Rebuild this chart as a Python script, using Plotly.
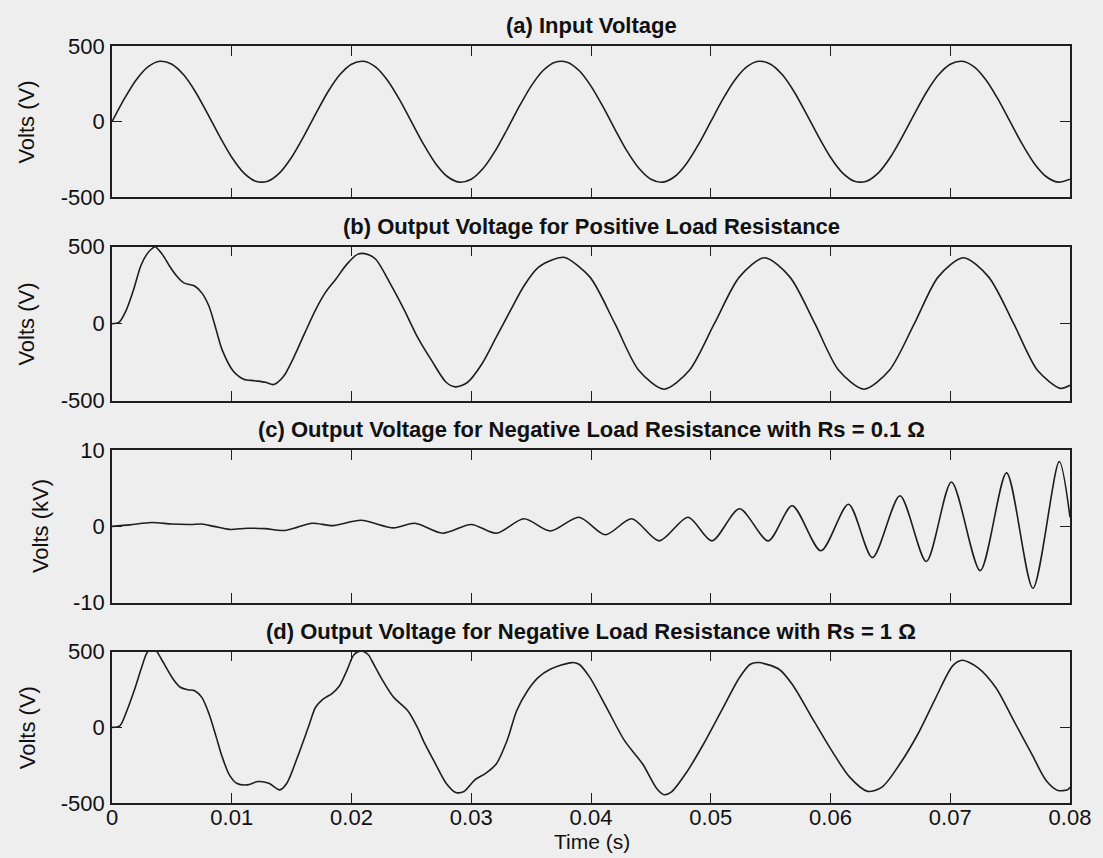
import plotly.graph_objects as go

# ---------------- data ----------------
x_ticks = [0, 0.01, 0.02, 0.03, 0.04, 0.05, 0.06, 0.07, 0.08]
x_tick_labels = ["0", "0.01", "0.02", "0.03", "0.04", "0.05", "0.06", "0.07", "0.08"]
y_ticks_v = [-500, 0, 500]
y_tick_labels_v = ["-500", "0", "500"]
y_ticks_kv = [-10, 0, 10]
y_tick_labels_kv = ["-10", "0", "10"]

titles = ["(a) Input Voltage",
          "(b) Output Voltage for Positive Load Resistance",
          "(c) Output Voltage for Negative Load Resistance with Rs = 0.1 \u03a9",
          "(d) Output Voltage for Negative Load Resistance with Rs = 1 \u03a9"]
y_labels = ["Volts (V)", "Volts (V)", "Volts (kV)", "Volts (V)"]
x_label = "Time (s)"

# (a) input voltage, sampled every 1 ms
t_a = [i / 1000 for i in range(81)]
v_a = [0, 147, 274, 362, 399, 380, 308, 193, 50, -99, -235, -338, -393, -393, -338, -235, -99,
       50, 193, 308, 380, 399, 362, 274, 147, 0, -147, -274, -362, -399, -380, -308, -193, -50,
       99, 235, 338, 393, 393, 338, 235, 99, -50, -193, -308, -380, -399, -362, -274, -147, 0,
       147, 274, 362, 399, 380, 308, 193, 50, -99, -235, -338, -393, -393, -338, -235, -99,
       50, 193, 308, 380, 399, 362, 274, 147, 0, -147, -274, -362, -399, -380]

# (b) output voltage, positive load
t_b = [0, 0.0006, 0.0012, 0.0018, 0.0024, 0.0029, 0.0033, 0.0036, 0.0042, 0.0048, 0.0054, 0.0060,
       0.0069, 0.0075, 0.0081, 0.0087, 0.0092, 0.0101, 0.0110, 0.0119, 0.0128, 0.0135, 0.0143,
       0.0152, 0.0161, 0.0170, 0.0178, 0.0187, 0.0196, 0.0205, 0.0211, 0.0220, 0.0232, 0.0244,
       0.0255, 0.0267, 0.0279, 0.0287, 0.0297, 0.0309, 0.0321, 0.0333, 0.0344, 0.0356, 0.0368,
       0.0378, 0.0399, 0.0420, 0.0440, 0.0461, 0.0482, 0.0503, 0.0524, 0.0545, 0.0566, 0.0587,
       0.0607, 0.0628, 0.0649, 0.0670, 0.0690, 0.0711, 0.0732, 0.0753, 0.0773, 0.0792, 0.0800]
v_b = [0, 10, 90, 220, 375, 450, 485, 500, 450, 375, 310, 265,
       245, 200, 113, -40, -170, -305, -360, -370, -380, -395, -345,
       -215, -60, 90, 200, 290, 385, 450, 455, 420, 265, 90,
       -85, -240, -380, -410, -380, -260, -85, 90, 245, 365, 415,
       430, 304, 0, -304, -425, -304, 0, 304, 428, 304, 0,
       -304, -425, -304, 0, 304, 428, 304, 0, -304, -420, -400]

# (c) output voltage, negative load, Rs = 0.1 ohm (kV)
t_c = [0, 0.0015, 0.0033, 0.0050, 0.0066, 0.0075, 0.0085, 0.0098, 0.0113, 0.0128, 0.0143, 0.0155,
       0.0167, 0.0185, 0.0208, 0.0235, 0.0253, 0.0276, 0.0300, 0.0321, 0.0344, 0.0366,
       0.0390, 0.0412, 0.0434, 0.0457, 0.0481, 0.0501, 0.0524, 0.0548, 0.0568, 0.0592,
       0.0615, 0.0635, 0.0658, 0.0680, 0.0701, 0.0725, 0.0747, 0.0769, 0.0791, 0.0800]
v_c = [0, 0.2, 0.5, 0.3, 0.25, 0.3, 0.0, -0.4, -0.25, -0.3, -0.55, -0.1,
       0.4, 0.1, 0.8, -0.2, 0.4, -0.9, 0.25, -0.9, 1.0, -0.6,
       1.2, -1.1, 1.0, -1.9, 1.2, -1.9, 2.3, -1.9, 2.7, -3.2,
       2.9, -4.1, 4.0, -4.6, 5.8, -5.8, 7.0, -8.1, 8.5, 1.2]

# (d) output voltage, negative load, Rs = 1 ohm
t_d = [0, 0.00065, 0.00124, 0.00184, 0.00243, 0.00287, 0.0032, 0.0036, 0.0042, 0.0051, 0.0057,
       0.0063, 0.0069, 0.0075, 0.0081, 0.0087, 0.0092, 0.0098, 0.0104, 0.0113, 0.0122, 0.0131,
       0.0140, 0.0146, 0.0155, 0.0164, 0.0170, 0.0176, 0.0184, 0.0190, 0.0196, 0.0202, 0.0208,
       0.0214, 0.0217, 0.0226, 0.0235, 0.0247, 0.0255, 0.0261, 0.0270, 0.0279, 0.0287, 0.0294,
       0.0303, 0.0312, 0.0321, 0.0330, 0.0338, 0.0347, 0.0356, 0.0366, 0.0384, 0.0390, 0.0399,
       0.0413, 0.0428, 0.0443, 0.0455, 0.0461, 0.0467, 0.0479, 0.0494, 0.0509, 0.0524, 0.0533,
       0.0540, 0.0557, 0.0568, 0.0586, 0.0601, 0.0616, 0.0631, 0.0643, 0.0658, 0.0673, 0.0688,
       0.0702, 0.0710, 0.0723, 0.0738, 0.0753, 0.0768, 0.0780, 0.0790, 0.0798, 0.0800]
v_d = [0, 10, 110, 240, 385, 485, 520, 515, 440, 320, 265,
       249, 242, 198, 90, -63, -195, -314, -369, -380, -358, -369,
       -413, -369, -194, 2, 133, 185, 225, 275, 373, 480, 505,
       480, 440, 310, 200, 110, 0, -105, -240, -369, -430, -424,
       -347, -304, -240, -85, 111, 242, 330, 384, 428, 417, 330,
       130, -88, -241, -406, -445, -428, -307, -110, 110, 329, 417,
       428, 384, 285, 44, -154, -329, -423, -395, -241, -44, 197,
       406, 443, 395, 263, 44, -175, -351, -417, -412, -395]

# ---------------- styling ----------------
BG = "#eeeeee"
INK = "#1e1e1e"
TXT = "#111111"
FONT = "Liberation Sans, Arial, sans-serif"
W, H = 1103, 858
ML, MR, MT, MB = 112, 23, 46, 55
PW, PH = W - ML - MR, H - MT - MB

domains = [[0.800, 1.0], [0.5314, 0.7349], [0.2646, 0.4663], [0.0, 0.1999]]
series = [(t_a, v_a), (t_b, v_b), (t_c, v_c), (t_d, v_d)]
yranges = [[-500, 500], [-500, 500], [-10, 10], [-500, 500]]
yticks = [y_ticks_v, y_ticks_v, y_ticks_kv, y_ticks_v]
yticktexts = [y_tick_labels_v, y_tick_labels_v, y_tick_labels_kv, y_tick_labels_v]
ylab_px = [26, 26, 40, 26]

fig = go.Figure()
for i, (tt, vv) in enumerate(series):
    n = "" if i == 0 else str(i + 1)
    fig.add_trace(go.Scatter(x=tt, y=vv, mode="lines",
                             line=dict(color=INK, width=1.6, shape="spline", smoothing=0.8),
                             xaxis="x" + n, yaxis="y" + n, showlegend=False, hoverinfo="skip"))
    fig.layout["xaxis" + n] = dict(
        domain=[0, 1], anchor="y" + n, range=[0, 0.08],
        tickvals=x_ticks, ticktext=x_tick_labels, showticklabels=(i == 3),
        ticks="inside", ticklen=10, tickwidth=1.4, tickcolor=INK,
        showline=True, linecolor=INK, linewidth=1.6, mirror="ticks",
        showgrid=False, zeroline=False, ticklabelstandoff=-6,
        tickfont=dict(family=FONT, size=22, color=TXT))
    fig.layout["yaxis" + n] = dict(
        domain=domains[i], anchor="x" + n, range=yranges[i],
        tickvals=yticks[i], ticktext=yticktexts[i],
        ticks="inside", ticklen=10, tickwidth=1.4, tickcolor=INK,
        showline=True, linecolor=INK, linewidth=1.6, mirror="ticks",
        showgrid=False, zeroline=False, ticklabelstandoff=1,
        tickfont=dict(family=FONT, size=22, color=TXT))
    # subplot title
    fig.add_annotation(text="<b>" + titles[i] + "</b>", xref="x" + n + " domain", yref="y" + n + " domain",
                       x=0.5, y=1, xanchor="center", yanchor="bottom", yshift=6, showarrow=False,
                       font=dict(family=FONT, size=22, color=TXT))
    # y label
    fig.add_annotation(text=y_labels[i], xref="paper", yref="y" + n + " domain",
                       x=(ylab_px[i] - ML) / PW, y=0.5, xanchor="center", yanchor="middle",
                       textangle=-90, showarrow=False,
                       font=dict(family=FONT, size=22, color=TXT))

fig.add_annotation(text=x_label, xref="paper", yref="paper",
                   x=(597 - ML) / PW, y=(H - MB - 842) / PH, xanchor="center", yanchor="middle",
                   showarrow=False, font=dict(family=FONT, size=21, color=TXT))

fig.update_layout(width=W, height=H, margin=dict(l=ML, r=MR, t=MT, b=MB),
                  paper_bgcolor=BG, plot_bgcolor=BG, showlegend=False)

fig.write_html("out.html")
